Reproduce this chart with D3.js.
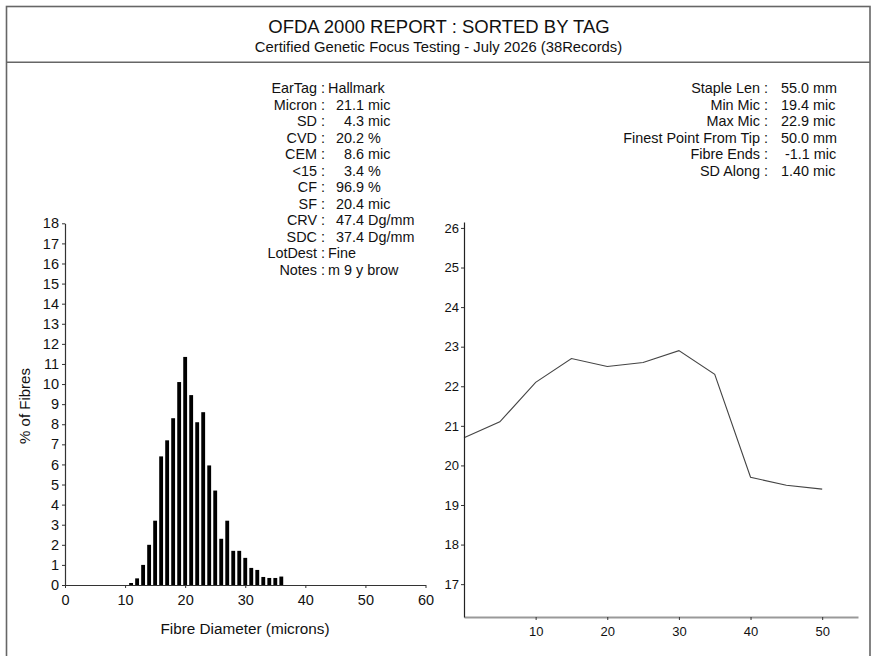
<!DOCTYPE html>
<html><head><meta charset="utf-8">
<script src="https://cdn.jsdelivr.net/npm/d3@7/dist/d3.min.js"></script>
<style>body{margin:0;background:#fff}svg{display:block;font-family:"Liberation Sans",Arial,sans-serif}text{white-space:pre}</style>
</head><body><svg id="c" width="877" height="656"></svg>
<script>
const title = "OFDA 2000 REPORT : SORTED BY TAG";
const subtitle = "Certified Genetic Focus Testing - July 2026 (38Records)";
const leftLabels = ["EarTag :","Micron :","SD :","CVD :","CEM :","<15 :","CF :","SF :","CRV :","SDC :","LotDest :","Notes :"];
const leftValues = ["Hallmark","  21.1 mic","    4.3 mic","  20.2 %","    8.6 mic","    3.4 %","  96.9 %","  20.4 mic","  47.4 Dg/mm","  37.4 Dg/mm","Fine","m 9 y brow"];
const rightLabels = ["Staple Len :","Min Mic :","Max Mic :","Finest Point From Tip :","Fibre Ends :","SD Along :"];
const rightValues = ["55.0 mm","19.4 mic","22.9 mic","50.0 mm"," -1.1 mic","1.40 mic"];
// histogram
const diam = [11,12,13,14,15,16,17,18,19,20,21,22,23,24,25,26,27,28,29,30,31,32,33,34,35,36];
const pct  = [0.1,0.33,1.0,2.0,3.2,6.4,7.2,8.3,10.1,11.35,9.45,8.1,8.6,5.95,4.7,2.3,3.2,1.7,1.7,1.35,0.85,0.75,0.4,0.35,0.35,0.42];
const histXTicks = [0,10,20,30,40,50,60];
const histYTicks = [0,1,2,3,4,5,6,7,8,9,10,11,12,13,14,15,16,17,18];
// profile along staple
const pos  = [0,5,10,15,20,25,30,35,40,45,50];
const mic  = [20.7,21.1,22.1,22.7,22.5,22.6,22.9,22.3,19.7,19.5,19.4];
const profXTicks = [10,20,30,40,50];
const profYTicks = [17,18,19,20,21,22,23,24,25,26];

const svg = d3.select("#c");
const frame = "#666";
// frame
svg.append("rect").attr("x",6.5).attr("y",6.5).attr("width",863.5).attr("height",660)
  .attr("fill","none").attr("stroke",frame).attr("stroke-width",1.6);
svg.append("line").attr("x1",6.5).attr("x2",870).attr("y1",62.3).attr("y2",62.3)
  .attr("stroke",frame).attr("stroke-width",1.6);
svg.append("text").attr("x",439).attr("y",33).attr("text-anchor","middle")
  .attr("font-size",18.5).attr("fill","#111").text(title);
svg.append("text").attr("x",438.5).attr("y",51.5).attr("text-anchor","middle")
  .attr("font-size",14.8).attr("fill","#111").text(subtitle);

// text blocks
const rowY = i => 93 + i*16.5;
const lg = svg.append("g").attr("font-size",14.4).attr("fill","#111");
leftLabels.forEach((t,i)=>{
  lg.append("text").attr("x",325).attr("y",rowY(i)).attr("text-anchor","end").text(t);
  lg.append("text").attr("x",328).attr("y",rowY(i)).text(leftValues[i]);
});
rightLabels.forEach((t,i)=>{
  lg.append("text").attr("x",768).attr("y",rowY(i)).attr("text-anchor","end").text(t);
  lg.append("text").attr("x",781).attr("y",rowY(i)).text(rightValues[i]);
});

// histogram
const hx = d3.scaleLinear().domain([0,60]).range([65,425.5]);
const hy = d3.scaleLinear().domain([0,18]).range([585,223.3]);
const hg = svg.append("g");
hg.selectAll("rect.bar").data(diam).join("rect").attr("class","bar")
  .attr("x",(d)=>hx(d-0.32)).attr("width",hx(0.64)-hx(0))
  .attr("y",(d,i)=>hy(pct[i])).attr("height",(d,i)=>hy(0)-hy(pct[i])).attr("fill","#000");
const hxa = hg.append("g").attr("transform","translate(0,585)")
  .call(d3.axisBottom(hx).tickValues(histXTicks).tickSize(3).tickPadding(7).tickSizeOuter(0));
const hya = hg.append("g").attr("transform","translate(65,0)")
  .call(d3.axisLeft(hy).tickValues(histYTicks).tickSize(3).tickPadding(3).tickSizeOuter(0));
[hxa,hya].forEach(a=>{
  a.selectAll("text").attr("font-size",14.5).attr("font-family","Liberation Sans, Arial, sans-serif").attr("fill","#111");
  a.select(".domain").attr("stroke","#333").attr("stroke-width",1.2);
  a.selectAll(".tick line").attr("stroke","#333");
});
hg.append("text").attr("x",245).attr("y",634).attr("text-anchor","middle").attr("font-size",15.3).attr("fill","#111")
  .text("Fibre Diameter (microns)");
hg.append("text").attr("transform","translate(30,406) rotate(-90)").attr("text-anchor","middle")
  .attr("font-size",15).attr("fill","#111").text("% of Fibres");

// profile
const px = d3.scaleLinear().domain([0,55]).range([464,858]);
const py = d3.scaleLinear().domain([16.17,26.15]).range([617,222]);
const pg = svg.append("g");
pg.append("path").datum(pos).attr("fill","none").attr("stroke","#444").attr("stroke-width",1.1)
  .attr("d", d3.line().x(d=>px(d)).y((d,i)=>py(mic[i])));
const pxa = pg.append("g").attr("transform","translate(0,617)")
  .call(d3.axisBottom(px).tickValues(profXTicks).tickSize(3).tickPadding(7).tickSizeOuter(0));
const pya = pg.append("g").attr("transform","translate(464,0)")
  .call(d3.axisLeft(py).tickValues(profYTicks).tickSize(3).tickPadding(2).tickSizeOuter(0));
[pxa,pya].forEach(a=>{
  a.selectAll("text").attr("font-size",13).attr("font-family","Liberation Sans, Arial, sans-serif").attr("fill","#111");
  a.selectAll(".tick line").attr("stroke","#333");
});
pxa.select(".domain").attr("stroke","#999").attr("stroke-width",2);
pya.select(".domain").attr("stroke","#222").attr("stroke-width",1.2);
</script></body></html>
